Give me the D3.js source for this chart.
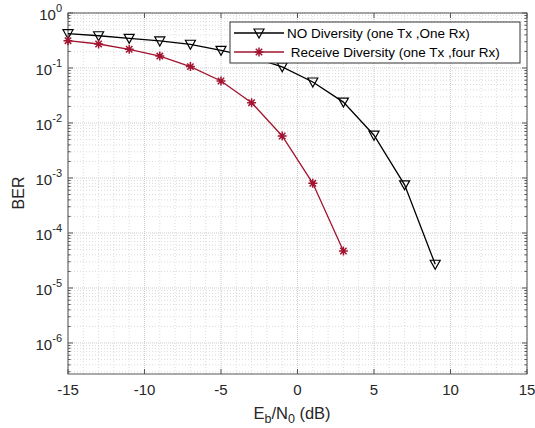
<!DOCTYPE html>
<html>
<head>
<meta charset="utf-8">
<script src="https://cdn.jsdelivr.net/npm/d3@7"></script>
<style>
body{margin:0;background:#fff;}
text{font-family:"Liberation Sans",Arial,sans-serif;}
</style>
</head>
<body>
<svg id="chart" width="535" height="428"></svg>
<script>
// x values (dB) and BER
var ebn0 = [-15,-13,-11,-9,-7,-5,-3,-1,1,3,5,7,9];
var berNoDiv = [0.42,0.386,0.347,0.31,0.27,0.21,0.158,0.105,0.0556,0.024,0.006,7.5e-4,2.7e-5];
var ebn0Rx = [-15,-13,-11,-9,-7,-5,-3,-1,1,3];
var berRxDiv = [0.314,0.273,0.219,0.165,0.106,0.058,0.0234,0.0058,8e-4,4.7e-5];
var xTicks = [-15,-10,-5,0,5,10,15];
var yExps = [0,-1,-2,-3,-4,-5,-6];
var legendNames = ["NO Diversity (one Tx ,One Rx)"," Receive Diversity (one Tx ,four Rx)"];

var L = 68, R = 527, T = 13, B = 374;
var svg = d3.select("#chart");
var x = d3.scaleLinear().domain([-15,15]).range([L,R]);
var y = d3.scaleLog().domain([Math.pow(10,-6.564),1]).range([B,T]);

var redC = "#a2142f";
var axC = "#555";

//grid, minor first
var g = svg.append("g");
for(var i=-15;i<=15;i++){
	if(i%5==0) continue;
	g.append("line").attr("x1",x(i)).attr("x2",x(i)).attr("y1",T).attr("y2",B)
		.attr("stroke","#dcdcdc").attr("stroke-dasharray","1,2");
}
var minorY = [];
for(var e=-7;e<0;e++){
	for(var m=2;m<=9;m++){
		var v = m*Math.pow(10,e);
		if(y(v)<=B && y(v)>=T) minorY.push(v);
	}
}
minorY.forEach(function(v){
	g.append("line").attr("x1",L).attr("x2",R).attr("y1",y(v)).attr("y2",y(v))
		.attr("stroke","#dcdcdc").attr("stroke-dasharray","1,2");
});
xTicks.forEach(function(t){
	g.append("line").attr("x1",x(t)).attr("x2",x(t)).attr("y1",T).attr("y2",B)
		.attr("stroke","#cccccc").attr("stroke-dasharray","1,1");
});
yExps.forEach(function(e){
	var v = Math.pow(10,e);
	g.append("line").attr("x1",L).attr("x2",R).attr("y1",y(v)).attr("y2",y(v))
		.attr("stroke","#cccccc").attr("stroke-dasharray","1,1");
});

// box + ticks
var ax = svg.append("g").attr("stroke",axC).attr("stroke-width",1);
ax.append("rect").attr("x",L).attr("y",T).attr("width",R-L).attr("height",B-T).attr("fill","none");
xTicks.forEach(function(t){
	ax.append("line").attr("x1",x(t)).attr("x2",x(t)).attr("y1",B).attr("y2",B-5);
	ax.append("line").attr("x1",x(t)).attr("x2",x(t)).attr("y1",T).attr("y2",T+5);
});
yExps.forEach(function(e){
	var yy = y(Math.pow(10,e));
	ax.append("line").attr("x1",L).attr("x2",L+5).attr("y1",yy).attr("y2",yy);
	ax.append("line").attr("x1",R).attr("x2",R-5).attr("y1",yy).attr("y2",yy);
});
minorY.forEach(function(v){
	ax.append("line").attr("x1",L).attr("x2",L+2.5).attr("y1",y(v)).attr("y2",y(v));
	ax.append("line").attr("x1",R).attr("x2",R-2.5).attr("y1",y(v)).attr("y2",y(v));
});

// tick labels
xTicks.forEach(function(t){
	svg.append("text").attr("x",x(t)).attr("y",395).attr("text-anchor","middle")
		.attr("font-size",15).attr("fill","#262626").text(t);
});
yExps.forEach(function(e){
	var tx = svg.append("text").attr("x",62).attr("y",y(Math.pow(10,e))+7).attr("text-anchor","end")
		.attr("font-size",15).attr("fill","#262626");
	tx.append("tspan").text("10");
	tx.append("tspan").attr("dy",-8).attr("font-size",11).text(e);
});

// axis titles
var xl = svg.append("text").attr("x",292).attr("y",419).attr("text-anchor","middle")
	.attr("font-size",16.5).attr("fill","#262626");
xl.append("tspan").text("E");
xl.append("tspan").attr("dy",4).attr("font-size",12.5).text("b");
xl.append("tspan").attr("dy",-4).text("/N");
xl.append("tspan").attr("dy",4).attr("font-size",12.5).text("0");
xl.append("tspan").attr("dy",-4).text(" (dB)");

svg.append("text").attr("transform","translate(24,193) rotate(-90)").attr("text-anchor","middle")
	.attr("font-size",16).attr("fill","#262626").text("BER");

// series
var line = d3.line().x(function(d){return x(d[0]);}).y(function(d){return y(d[1]);});
var dNo = ebn0.map(function(v,i){return [v,berNoDiv[i]];});
var dRx = ebn0Rx.map(function(v,i){return [v,berRxDiv[i]];});

svg.append("path").datum(dNo).attr("d",line).attr("fill","none").attr("stroke","#000").attr("stroke-width",1.3);
svg.append("path").datum(dRx).attr("d",line).attr("fill","none").attr("stroke",redC).attr("stroke-width",1.3);

function tri(sel,cx,cy){
	sel.append("path").attr("d","M"+(cx-5)+","+(cy-4)+"L"+(cx+5)+","+(cy-4)+"L"+cx+","+(cy+5)+"Z")
		.attr("fill","none").attr("stroke","#000").attr("stroke-width",1.2);
}
function star(sel,cx,cy){
	var r = 4.5;
	var p = "";
	[0,45,90,135].forEach(function(a){
		var rad = a*Math.PI/180;
		p += "M"+(cx-r*Math.cos(rad))+","+(cy-r*Math.sin(rad))+"L"+(cx+r*Math.cos(rad))+","+(cy+r*Math.sin(rad));
	});
	sel.append("path").attr("d",p).attr("stroke",redC).attr("stroke-width",1.5);
}
dNo.forEach(function(d){ tri(svg,x(d[0]),y(d[1])); });
dRx.forEach(function(d){ star(svg,x(d[0]),y(d[1])); });

// legend
var lg = svg.append("g");
lg.append("rect").attr("x",230).attr("y",22).attr("width",290).attr("height",41)
	.attr("fill","#fff").attr("stroke","#333").attr("stroke-width",1);
var rows = [33,52];
lg.append("line").attr("x1",234).attr("x2",284).attr("y1",rows[0]).attr("y2",rows[0]).attr("stroke","#000").attr("stroke-width",1.3);
tri(lg,259,rows[0]);
lg.append("line").attr("x1",234).attr("x2",284).attr("y1",rows[1]).attr("y2",rows[1]).attr("stroke",redC).attr("stroke-width",1.3);
star(lg,259,rows[1]);
legendNames.forEach(function(n,i){
	lg.append("text").attr("x",287).attr("y",rows[i]+5).attr("font-size",13.5).attr("fill","#000")
		.attr("xml:space","preserve").style("white-space","pre").text(n);
});
</script>
</body>
</html>
